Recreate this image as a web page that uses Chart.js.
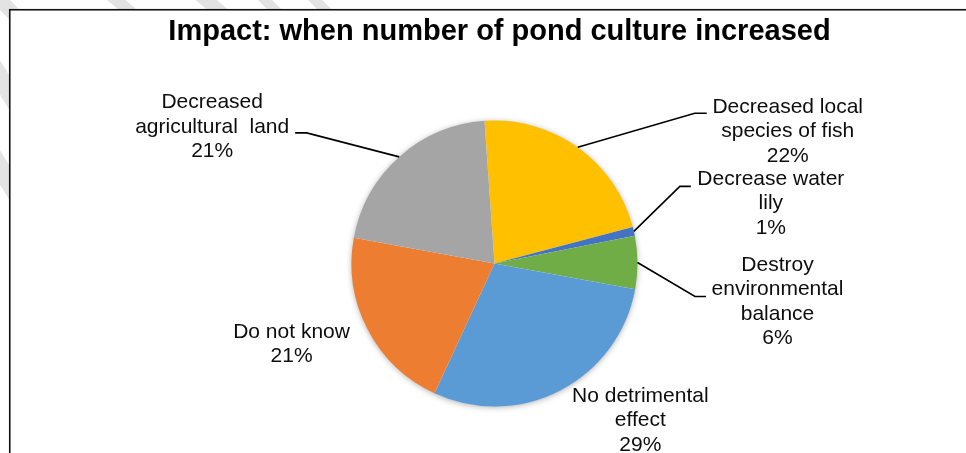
<!DOCTYPE html>
<html>
<head>
<meta charset="utf-8">
<script src="https://cdn.jsdelivr.net/npm/chart.js@4/dist/chart.umd.min.js"></script>
<style>
html,body{margin:0;padding:0;background:#fff;overflow:hidden}
#wrap{width:966px;height:453px;position:relative}
canvas{display:block}
</style>
</head>
<body>
<div id="wrap"><canvas id="c" width="966" height="453"></canvas></div>
<script>
// ---- data ----
const chartTitle = "Impact: when number of pond culture increased";
const categories = [
  ["Decreased local", "species of fish"],
  ["Decrease water", "lily"],
  ["Destroy", "environmental", "balance"],
  ["No detrimental", "effect"],
  ["Do not know"],
  ["Decreased", "agricultural  land"]
];
const percentValues = [22, 1, 6, 29, 21, 21];

// ---- styling / layout (not data) ----
const sliceColors = ["#FFC000", "#4472C4", "#70AD47", "#5B9BD5", "#ED7D31", "#A5A5A5"];
// label block centre, relative to the slice's mid point on the rim
const labelOffsets = [[210, -16], [137, -28], [140, 39], [80, 30], [-76, 15], [-187, -30]];
// leader lines: [elbow, end] relative to rim mid point (null = no leader)
const leaderPoints = [
  [[117, -34], [129, -34]],
  [[46, -45], [57, -45]],
  [[57.5, 34], [68.5, 34]],
  null,
  null,
  [[-92.5, -24], [-104, -24]]
];

const labelFont = '21px "Liberation Sans", Arial, sans-serif';
const lineH = 24.5;

const decorPlugin = {
  id: 'decor',
  beforeDraw(chart) {
    const ctx = chart.ctx;
    ctx.save();
    ctx.fillStyle = '#fff';
    ctx.fillRect(0, 0, chart.width, chart.height);
    // faint watermark bands in the margin
    ctx.strokeStyle = '#e3e3e3';
    ctx.lineCap = 'butt';
    const bands = [[-10,-10,25,25,14],[105,-10,145,25,12],[195,-10,235,25,14],[255,-10,290,25,10],[305,-10,340,25,10],[-20,45,20,110,18],[-20,135,20,200,18]];
    bands.forEach(b => { ctx.lineWidth = b[4]; ctx.beginPath(); ctx.moveTo(b[0], b[1]); ctx.lineTo(b[2], b[3]); ctx.stroke(); });
    // chart frame
    ctx.fillStyle = '#fff';
    ctx.fillRect(9.75, 9.75, 2000, 2000);
    ctx.strokeStyle = '#111';
    ctx.lineWidth = 1.6;
    ctx.strokeRect(9.75, 9.75, 2000, 2000);
    ctx.restore();
  },
  beforeDatasetsDraw(chart) {
    const meta = chart.getDatasetMeta(0);
    if (!meta.data.length) return;
    const a = meta.data[0].getProps(['x', 'y', 'outerRadius'], true);
    const ctx = chart.ctx;
    ctx.save();
    ctx.shadowColor = 'rgba(0,0,0,0.35)';
    ctx.shadowBlur = 6;
    ctx.shadowOffsetX = 0;
    ctx.shadowOffsetY = 1;
    ctx.fillStyle = '#fff';
    ctx.beginPath();
    ctx.arc(a.x, a.y, a.outerRadius - 0.5, 0, Math.PI * 2);
    ctx.fill();
    ctx.restore();
  },
  afterDatasetsDraw(chart) {
    const meta = chart.getDatasetMeta(0);
    const ctx = chart.ctx;
    ctx.save();
    meta.data.forEach((arc, i) => {
      const p = arc.getProps(['x', 'y', 'startAngle', 'endAngle', 'outerRadius'], true);
      const mid = (p.startAngle + p.endAngle) / 2;
      const px = p.x + Math.cos(mid) * p.outerRadius;
      const py = p.y + Math.sin(mid) * p.outerRadius;
      const lp = leaderPoints[i];
      if (lp) {
        ctx.strokeStyle = '#000';
        ctx.lineWidth = 1.6;
        ctx.beginPath();
        ctx.moveTo(px, py);
        ctx.lineTo(px + lp[0][0], py + lp[0][1]);
        ctx.lineTo(px + lp[1][0], py + lp[1][1]);
        ctx.stroke();
      }
      const lines = categories[i].concat([percentValues[i] + '%']);
      const cx = px + labelOffsets[i][0];
      const cy = py + labelOffsets[i][1];
      ctx.font = labelFont;
      ctx.fillStyle = '#0d0d0d';
      ctx.textAlign = 'center';
      ctx.textBaseline = 'middle';
      const y0 = cy - (lines.length - 1) * lineH / 2;
      lines.forEach((t, k) => ctx.fillText(t, cx, y0 + k * lineH));
    });
    ctx.restore();
  },
  afterDraw(chart) {
    const ctx = chart.ctx;
    ctx.save();
    ctx.font = 'bold 29px "Liberation Sans", Arial, sans-serif';
    ctx.fillStyle = '#000';
    ctx.textAlign = 'center';
    ctx.textBaseline = 'alphabetic';
    ctx.fillText(chartTitle, 499.5, 40);
    ctx.restore();
  }
};

new Chart(document.getElementById('c'), {
  type: 'pie',
  data: {
    labels: categories,
    datasets: [{
      data: percentValues,
      backgroundColor: sliceColors,
      borderWidth: 0,
      hoverOffset: 0
    }]
  },
  options: {
    responsive: false,
    devicePixelRatio: 1,
    animation: false,
    events: [],
    rotation: -4,
    layout: { padding: { top: 120.5, bottom: 46.5, left: 23, right: 0 } },
    plugins: {
      legend: { display: false },
      tooltip: { enabled: false },
      title: { display: false }
    }
  },
  plugins: [decorPlugin]
});
</script>
</body>
</html>
